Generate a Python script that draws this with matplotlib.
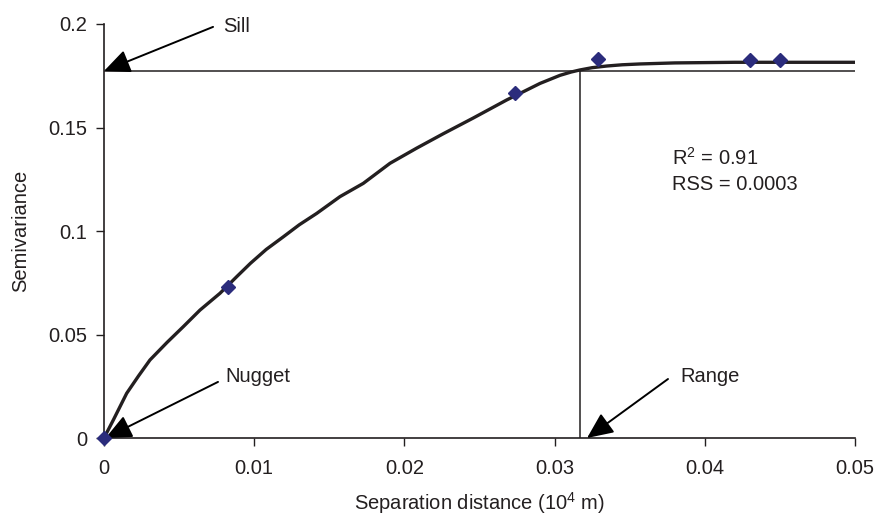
import matplotlib
matplotlib.use("Agg")
import matplotlib.pyplot as plt

lag_dist = [0.0, 0.00826, 0.02736, 0.03291, 0.0430, 0.0450]
semivar = [0.0, 0.0731, 0.1665, 0.1829, 0.1828, 0.1828]

model_dist = [0.0, 0.00062, 0.00151, 0.00230, 0.00306, 0.00420, 0.00528, 0.00639,
              0.00772, 0.00883, 0.00975, 0.01080, 0.01194, 0.01300, 0.01416, 0.01571,
              0.01726, 0.01904, 0.02081, 0.02259, 0.02459, 0.02681, 0.02820, 0.02903,
              0.03036, 0.03110, 0.03169, 0.03250, 0.03347, 0.03450, 0.03569, 0.0380,
              0.0420, 0.0460, 0.0500]
model_semivar = [0.0, 0.0087, 0.0216, 0.0300, 0.0377, 0.0462, 0.0538, 0.0618,
                 0.0699, 0.0779, 0.0844, 0.0911, 0.0972, 0.1030, 0.1085, 0.1166,
                 0.1230, 0.1327, 0.1400, 0.1470, 0.1546, 0.1633, 0.1683, 0.1713,
                 0.1752, 0.1768, 0.1778, 0.1789, 0.1797, 0.1803, 0.1807, 0.1812,
                 0.1815, 0.1815, 0.1815]

sill = 0.1773
model_range = 0.03169
nugget = 0.0

r2_text = "R$^2$ = 0.91"
rss_text = "RSS = 0.0003"

x_ticks = [0, 0.01, 0.02, 0.03, 0.04, 0.05]
x_tick_labels = ["0", "0.01", "0.02", "0.03", "0.04", "0.05"]
y_ticks = [0, 0.05, 0.1, 0.15, 0.2]
y_tick_labels = ["0", "0.05", "0.1", "0.15", "0.2"]

plt.rcParams["font.family"] = ["Liberation Sans", "DejaVu Sans"]
plt.rcParams["mathtext.fontset"] = "custom"
plt.rcParams["mathtext.rm"] = "Liberation Sans"
plt.rcParams["mathtext.it"] = "Liberation Sans:italic"

FS = 14.5


def arrow(ax, label, tip, tail, text_pos):
    ax.annotate("", xy=tip, xytext=tail,
                arrowprops=dict(arrowstyle="-|>,head_length=0.8,head_width=0.36",
                                mutation_scale=20, color="black", lw=1.4,
                                shrinkA=0, shrinkB=0),
                annotation_clip=False)
    ax.text(text_pos[0], text_pos[1], label, fontsize=FS, color="#231f20",
            ha="left", va="center")


def main():
    fig = plt.figure(figsize=(8.77, 5.15), dpi=100)
    ax = fig.add_axes([0.1186, 0.1495, 0.8563, 0.8039])

    # sill and range guide lines
    ax.plot([0, 0.05], [sill, sill], color="#231f20", lw=1.1)
    ax.plot([model_range, model_range], [0, sill], color="#231f20", lw=1.1)

    ax.plot(model_dist, model_semivar, color="#231f20", lw=2.4, zorder=3,
            solid_joinstyle="round")
    ax.plot(lag_dist, semivar, linestyle="none", marker="D", markersize=7,
            color="#2b2c7c", zorder=4, clip_on=False)

    arrow(ax, "Sill", (0.0, sill), (0.00726, 0.1986), (0.0079, 0.1986))
    arrow(ax, "Nugget", (0.0001, nugget), (0.00759, 0.0271), (0.0081, 0.0295))
    arrow(ax, "Range", (0.03216, 0.0), (0.03755, 0.0285), (0.03835, 0.0295))

    ax.text(0.03782, 0.1353, r2_text, fontsize=FS, color="#231f20", ha="left", va="center")
    ax.text(0.03782, 0.1227, rss_text, fontsize=FS, color="#231f20", ha="left", va="center")

    ax.set_xlim(0, 0.05)
    ax.set_ylim(0, 0.2)
    ax.set_xticks(x_ticks)
    ax.set_xticklabels(x_tick_labels)
    ax.set_yticks(y_ticks)
    ax.set_yticklabels(y_tick_labels)
    ax.tick_params(axis="both", direction="out", length=6, width=1.0,
                   labelsize=FS, colors="#231f20")
    ax.tick_params(axis="x", pad=9)
    ax.tick_params(axis="y", pad=6)

    ax.spines["top"].set_visible(False)
    ax.spines["right"].set_visible(False)
    for s in ["left", "bottom"]:
        ax.spines[s].set_linewidth(1.2)
        ax.spines[s].set_color("#231f20")

    ax.set_xlabel("Separation distance (10$^{4}$ m)", fontsize=FS, color="#231f20", labelpad=9)
    ax.set_ylabel("Semivariance", fontsize=FS, color="#231f20", labelpad=13)

    fig.savefig("out.png", dpi=100)


if __name__ == '__main__':
    main()
